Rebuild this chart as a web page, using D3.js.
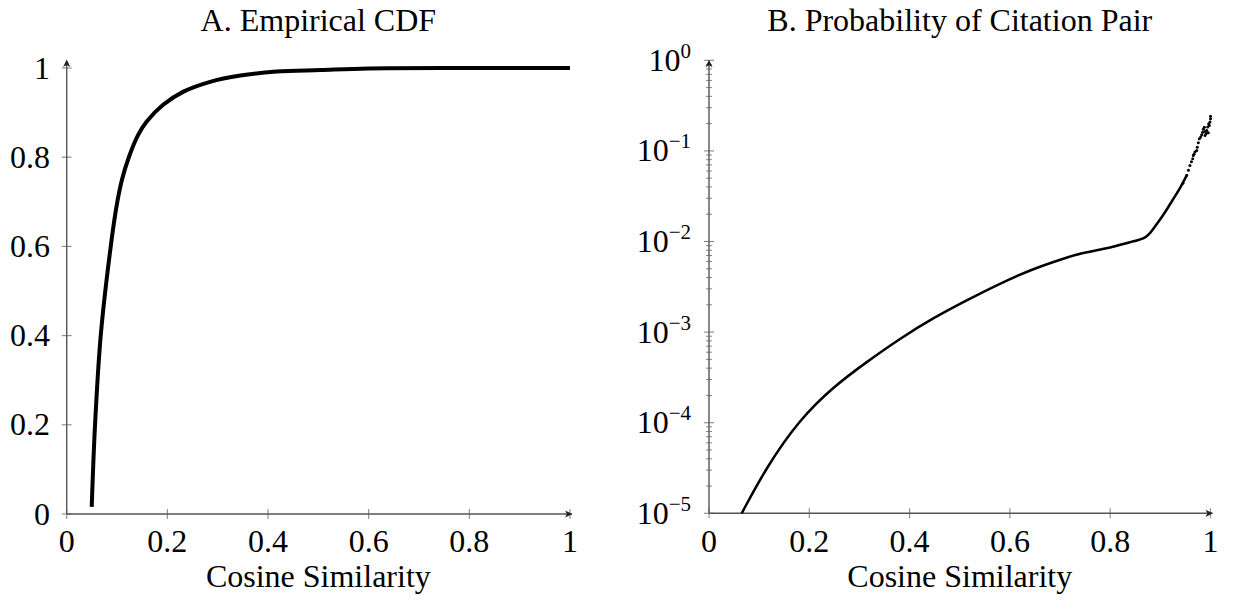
<!DOCTYPE html>
<html><head><meta charset="utf-8">
<script src="https://cdn.jsdelivr.net/npm/d3@7"></script>
<style>
html,body{margin:0;padding:0;background:#fff;}
text{font-family:"Liberation Serif","Times New Roman",serif;fill:#000;}
</style></head>
<body><svg id="c" width="1235" height="601"></svg>
<script>
// ---- Data ----
// Panel A: empirical CDF of cosine similarity
const cdfX = [0.0497, 0.0563, 0.0676, 0.0875, 0.0995, 0.1099, 0.1235, 0.142, 0.159, 0.191, 0.232, 0.285, 0.345, 0.417, 0.504, 0.60, 0.80, 1.0];
const cdfY = [0.016, 0.20, 0.40, 0.60, 0.693, 0.75, 0.80, 0.85, 0.88, 0.917, 0.947, 0.969, 0.983, 0.992, 0.9955, 0.999, 1.0, 1.0];
// Panel B: probability of a citation pair (dense part, drawn as a line)
const probX = [0.0652, 0.115, 0.1815, 0.248, 0.3145, 0.381, 0.447, 0.514, 0.580, 0.647, 0.713, 0.74, 0.780, 0.806, 0.8395, 0.873, 0.886, 0.906, 0.926, 0.939, 0.9525];
const probY = [1.0e-5, 3.27e-5, 1.10e-4, 2.49e-4, 4.69e-4, 8.51e-4, 1.43e-3, 2.25e-3, 3.44e-3, 5.02e-3, 6.64e-3, 7.36e-3, 8.15e-3, 8.7e-3, 9.9e-3, 1.08e-2, 1.39e-2, 1.95e-2, 2.97e-2, 3.83e-2, 5.37e-2];
// Panel B: sparse tail (individual points)
const tailX = [0.945, 0.9525, 0.956, 0.959, 0.962, 0.9645, 0.9657, 0.967, 0.969, 0.9725, 0.9737, 0.9757, 0.9777, 0.9804, 0.9824, 0.9844, 0.9857, 0.9877, 0.989, 0.9897, 0.991, 0.9924, 0.9944, 0.9957, 0.9964, 0.9976, 0.999, 1.0, 1.0];
const tailY = [0.0440, 0.0537, 0.0610, 0.0692, 0.0760, 0.082, 0.089, 0.092, 0.097, 0.101, 0.110, 0.123, 0.136, 0.142, 0.151, 0.161, 0.173, 0.182, 0.148, 0.164, 0.155, 0.168, 0.183, 0.159, 0.200, 0.191, 0.208, 0.226, 0.242];
// Tick labels
const xTicks = [0, 0.2, 0.4, 0.6, 0.8, 1];
const xTickLabels = ["0", "0.2", "0.4", "0.6", "0.8", "1"];
const cdfYTicks = [0, 0.2, 0.4, 0.6, 0.8, 1];
const cdfYTickLabels = ["0", "0.2", "0.4", "0.6", "0.8", "1"];
const logTicks = [1e-5, 1e-4, 1e-3, 1e-2, 1e-1, 1];
const logExponents = ["−5", "−4", "−3", "−2", "−1", "0"];
const titles = ["A. Empirical CDF", "B. Probability of Citation Pair"];
const xLabel = "Cosine Similarity";

// ---- Drawing ----
const svg = d3.select("#c");
const FS = 32;
const axisColor = "#555";
const tickColor = "#888";

function arrowUp(g, x, y) {
  g.append("path").attr("d", `M${x},${y} L${x-3.6},${y+7.5} L${x},${y+5.5} L${x+3.6},${y+7.5} Z`).attr("fill", "#222");
}
function arrowRight(g, x, y) {
  g.append("path").attr("d", `M${x},${y} L${x-7.5},${y-3.6} L${x-5.5},${y} L${x-7.5},${y+3.6} Z`).attr("fill", "#222");
}

function frame(g, xs, ys0, ys1, title) {
  const [x0, x1] = xs.range();
  g.append("text").attr("x", (x0 + x1) / 2).attr("y", 31).attr("text-anchor", "middle").attr("font-size", FS).text(title);
  g.append("text").attr("x", (x0 + x1) / 2).attr("y", 587).attr("text-anchor", "middle").attr("font-size", FS).text(xLabel);
  xTicks.forEach((t, i) => {
    const px = xs(t);
    g.append("line").attr("x1", px).attr("x2", px).attr("y1", ys0 - 5).attr("y2", ys0 + 5).attr("stroke", tickColor).attr("stroke-width", 1.1);
    g.append("text").attr("x", px).attr("y", 552).attr("text-anchor", "middle").attr("font-size", FS).text(xTickLabels[i]);
  });
  g.append("line").attr("x1", x0).attr("x2", x1 + 2).attr("y1", ys0).attr("y2", ys0).attr("stroke", axisColor).attr("stroke-width", 1.4);
  g.append("line").attr("x1", x0).attr("x2", x0).attr("y1", ys0).attr("y2", ys1 + 2).attr("stroke", axisColor).attr("stroke-width", 1.4);
  arrowRight(g, x1 + 2.5, ys0);
  arrowUp(g, x0, ys1 - 0.5);
}

// Panel A
const gA = svg.append("g");
const xA = d3.scaleLinear().domain([0, 1]).range([66.7, 570]);
const yA = d3.scaleLinear().domain([0, 1]).range([514, 68]);
cdfYTicks.forEach((t, i) => {
  const py = yA(t);
  gA.append("line").attr("x1", xA(0) - 5).attr("x2", xA(0) + 5).attr("y1", py).attr("y2", py).attr("stroke", tickColor).attr("stroke-width", 1.1);
  gA.append("text").attr("x", 50).attr("y", py + 10.5).attr("text-anchor", "end").attr("font-size", FS).text(cdfYTickLabels[i]);
});
frame(gA, xA, yA(0), 60, titles[0]);
const cdfData = cdfX.map((x, i) => [x, cdfY[i]]);
gA.append("path").datum(cdfData)
  .attr("d", d3.line().x(d => xA(d[0])).y(d => yA(d[1])).curve(d3.curveCatmullRom.alpha(0.5)))
  .attr("fill", "none").attr("stroke", "#000").attr("stroke-width", 4).attr("stroke-linecap", "butt");

// Panel B
const gB = svg.append("g");
const xB = d3.scaleLinear().domain([0, 1]).range([709, 1210.5]);
const yB = d3.scaleLog().domain([1e-5, 1]).range([513.3, 60.3]);
for (let e = -5; e < 0; e++) {
  for (let m = 2; m <= 9; m++) {
    const py = yB(m * Math.pow(10, e));
    gB.append("line").attr("x1", xB(0) - 3).attr("x2", xB(0) + 3).attr("y1", py).attr("y2", py).attr("stroke", tickColor).attr("stroke-width", 1);
  }
}
logTicks.forEach((t, i) => {
  const py = yB(t);
  gB.append("line").attr("x1", xB(0) - 5).attr("x2", xB(0) + 5).attr("y1", py).attr("y2", py).attr("stroke", tickColor).attr("stroke-width", 1.1);
  const tx = gB.append("text").attr("x", 691).attr("y", py + 10.5).attr("text-anchor", "end").attr("font-size", FS);
  tx.append("tspan").text("10");
  tx.append("tspan").attr("font-size", 21).attr("dy", -13).text(logExponents[i]);
});
frame(gB, xB, yB(1e-5), yB(1), titles[1]);
const probData = probX.map((x, i) => [x, probY[i]]);
gB.append("path").datum(probData)
  .attr("d", d3.line().x(d => xB(d[0])).y(d => yB(d[1])).curve(d3.curveBasis))
  .attr("fill", "none").attr("stroke", "#000").attr("stroke-width", 2.5);
const tailData = tailX.map((x, i) => [x, tailY[i]]);
gB.selectAll("circle.tail").data(tailData).enter().append("circle")
  .attr("class", "tail").attr("cx", d => xB(d[0])).attr("cy", d => yB(d[1])).attr("r", 1.5).attr("fill", "#000");
</script>
</body></html>
